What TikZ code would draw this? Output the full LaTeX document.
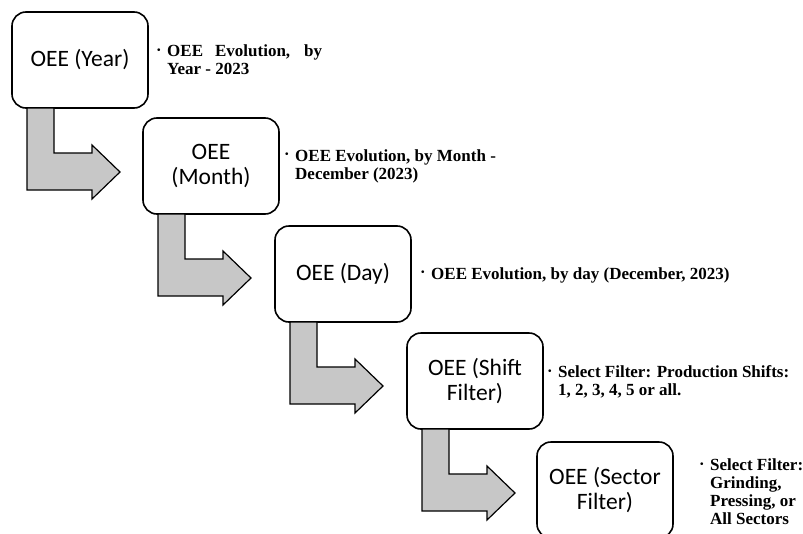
\documentclass[tikz,border=0pt]{standalone}
\usepackage{fontspec}
\setmainfont{Liberation Serif}
\newfontfamily\boxfont{Carlito}
\usetikzlibrary{calc}
\newcommand\notebul{\makebox[10pt][l]{\raisebox{3.5pt}{\fontsize{10}{10}\selectfont •}}}
\newcommand\noteind{\hspace*{10pt}}
\begin{document}
\begin{tikzpicture}[x=1pt,y=-1pt,
  stage/.style={draw=black,line width=1.6pt,rounded corners=14pt,fill=white,
    minimum width=136pt,minimum height=96pt,inner sep=0pt,outer sep=0pt,
    align=center,font=\boxfont\fontsize{23.5}{25}\selectfont},
  note/.style={anchor=west,align=left,inner sep=0pt,
    font=\bfseries\fontsize{17}{18}\selectfont},
  bendarrow/.style={fill=black!22,draw=black,line width=1.2pt,line join=miter}]
\clip (0,0) rectangle (803,533);
\fill[white] (0,0) rectangle (803,533);

\node[stage] (b1) at (80,60)  {OEE (Year)};
\node[stage] (b2) at (211,166) {OEE\\(Month)};
\node[stage] (b3) at (343,274) {OEE (Day)};
\node[stage] (b4) at (475,381) {OEE (Shift\\Filter)};
\node[stage] (b5) at (605,490) {OEE (Sector\\Filter)};

\foreach \b in {b1,b2,b3,b4}{
  \draw[bendarrow] ($(\b.south west)+(15,0)$) -- ($(\b.south west)+(42,0)$)
    -- ($(\b.south west)+(42,45)$) -- ($(\b.south west)+(80,45)$)
    -- ($(\b.south west)+(80,37)$) -- ($(\b.south west)+(108,64)$)
    -- ($(\b.south west)+(80,91)$) -- ($(\b.south west)+(80,82)$)
    -- ($(\b.south west)+(15,82)$) -- cycle;
}

\node[note] (t1) at (157,60) {\notebul\makebox[155pt][s]{OEE Evolution, by}\\\noteind Year - 2023};
\node[note] (t2) at (285,166) {\notebul OEE Evolution, by Month -\\\noteind December (2023)};
\node[note] (t3) at (421,275) {\notebul OEE Evolution, by day (December, 2023)};
\node[note] (t4) at (548,382) {\notebul Select Filter: Production Shifts:\\\noteind 1, 2, 3, 4, 5 or all.};
\node[note] (t5) at (700,492) {\notebul Select Filter:\\\noteind Grinding,\\\noteind Pressing, or\\\noteind All Sectors};
\end{tikzpicture}
\end{document}
